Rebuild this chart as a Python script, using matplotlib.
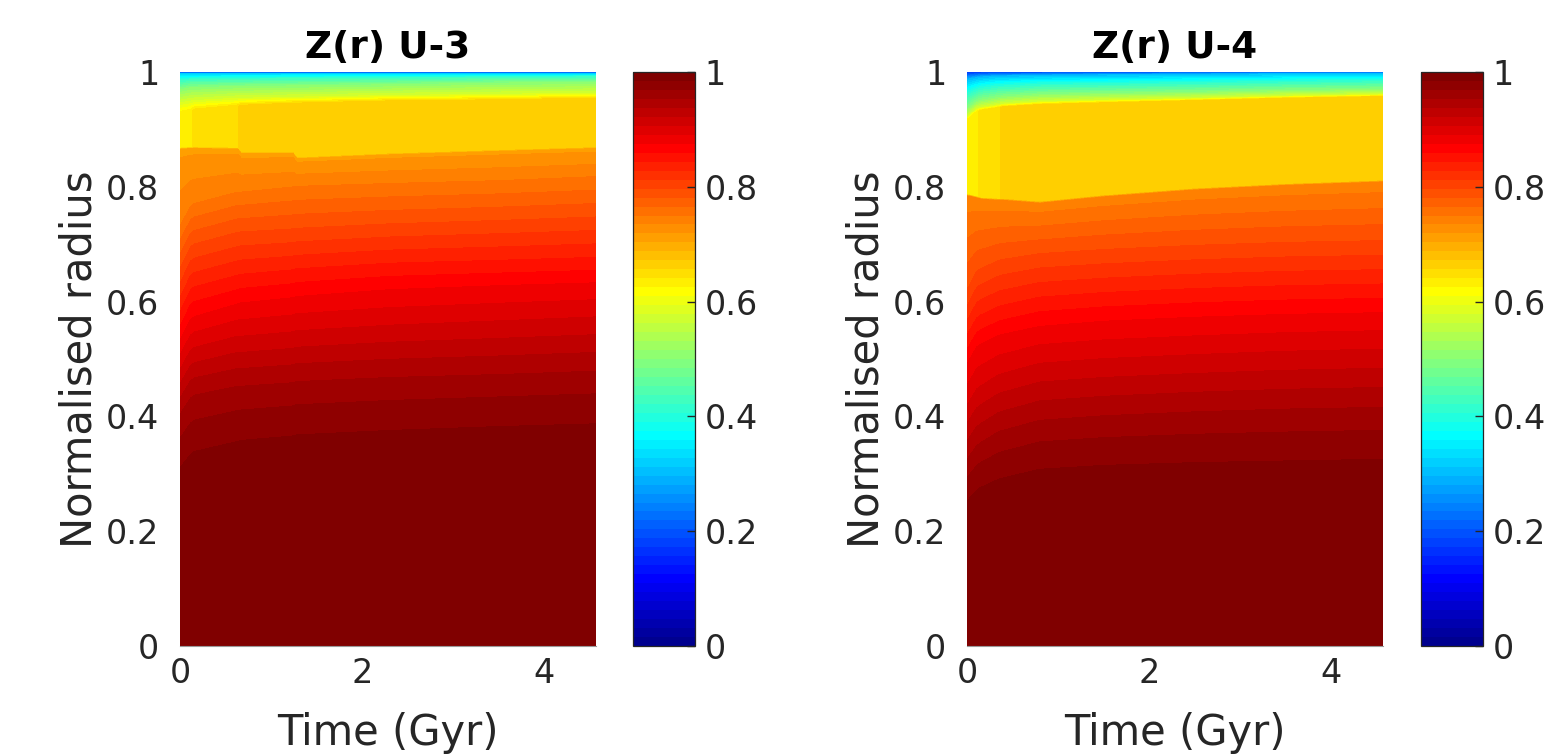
import numpy as np
import matplotlib
matplotlib.use("Agg")
import matplotlib.pyplot as plt
from matplotlib.colors import ListedColormap, Normalize
from matplotlib.cm import ScalarMappable

# ---------------------------------------------------------------------------
# Z(r) field, stored as iso-value rows: for every row a Z value and the
# normalised radius at which that value is reached at each time sample.
# ---------------------------------------------------------------------------

# ---- U-3 --------------------------------------------------------------
u3_time = [0.0, 0.12, 0.16, 0.63, 0.67, 1.24, 1.28, 2.3, 3.5, 4.57]
u3_plateau_z = [0.633, 0.633, 0.648, 0.648, 0.664, 0.664, 0.664, 0.664, 0.664, 0.664]
u3_plateau_bottom = [0.867, 0.868, 0.868, 0.867, 0.859, 0.859, 0.850, 0.857, 0.863, 0.868]
u3_plateau_top = [0.928, 0.932, 0.933, 0.940, 0.940, 0.944, 0.944, 0.948, 0.950, 0.953]
u3_below_z = 0.715
u3_inner_z = [0.995, 0.984, 0.95, 0.90, 0.875, 0.85, 0.80, 0.75]
u3_inner_r = [
    [0.0] * 10,
    [0.320, 0.345, 0.350, 0.368, 0.370, 0.378, 0.380, 0.388, 0.395, 0.400],
    [0.410, 0.440, 0.445, 0.460, 0.460, 0.466, 0.468, 0.475, 0.480, 0.486],
    [0.490, 0.525, 0.530, 0.550, 0.550, 0.558, 0.560, 0.570, 0.578, 0.585],
    [0.530, 0.568, 0.573, 0.595, 0.597, 0.606, 0.608, 0.620, 0.627, 0.632],
    [0.570, 0.610, 0.615, 0.635, 0.637, 0.645, 0.647, 0.657, 0.662, 0.667],
    [0.650, 0.690, 0.695, 0.715, 0.716, 0.721, 0.722, 0.730, 0.736, 0.742],
    [0.730, 0.765, 0.770, 0.790, 0.790, 0.799, 0.800, 0.805, 0.810, 0.817],
]
u3_outer_z = [0.58, 0.50, 0.42, 0.32, 0.20]
u3_outer_r = [
    [0.945, 0.948, 0.949, 0.953, 0.953, 0.955, 0.955, 0.958, 0.960, 0.962],
    [0.968, 0.972, 0.972, 0.974, 0.974, 0.975, 0.975, 0.977, 0.980, 0.981],
    [0.984, 0.986, 0.986, 0.987, 0.987, 0.988, 0.988, 0.989, 0.990, 0.991],
    [0.996] * 10,
    [1.0] * 10,
]

# ---- U-4 --------------------------------------------------------------
u4_time = [0.0, 0.11, 0.15, 0.35, 0.39, 0.8, 1.5, 2.5, 3.5, 4.57]
u4_plateau_z = [0.633, 0.633, 0.648, 0.648, 0.664, 0.664, 0.664, 0.664, 0.664, 0.664]
u4_plateau_bottom = [0.786, 0.782, 0.780, 0.778, 0.778, 0.773, 0.784, 0.796, 0.804, 0.810]
u4_plateau_top = [0.915, 0.930, 0.932, 0.937, 0.938, 0.942, 0.945, 0.949, 0.953, 0.956]
u4_below_z = 0.74
u4_inner_z = [0.995, 0.984, 0.95, 0.90, 0.875, 0.85, 0.80]
u4_inner_r = [
    [0.0] * 10,
    [0.260, 0.280, 0.285, 0.300, 0.302, 0.318, 0.325, 0.330, 0.333, 0.336],
    [0.330, 0.355, 0.360, 0.380, 0.382, 0.400, 0.408, 0.415, 0.420, 0.423],
    [0.430, 0.460, 0.465, 0.485, 0.487, 0.505, 0.513, 0.520, 0.526, 0.530],
    [0.490, 0.520, 0.525, 0.540, 0.542, 0.556, 0.565, 0.572, 0.577, 0.580],
    [0.530, 0.560, 0.565, 0.580, 0.582, 0.597, 0.605, 0.612, 0.617, 0.620],
    [0.610, 0.645, 0.650, 0.665, 0.667, 0.678, 0.685, 0.692, 0.697, 0.700],
]
u4_outer_z = [0.58, 0.50, 0.40, 0.30, 0.15]
u4_outer_r = [
    [0.920, 0.935, 0.937, 0.942, 0.943, 0.947, 0.950, 0.953, 0.957, 0.960],
    [0.935, 0.948, 0.950, 0.955, 0.956, 0.960, 0.962, 0.964, 0.967, 0.969],
    [0.963, 0.970, 0.972, 0.976, 0.976, 0.979, 0.980, 0.982, 0.984, 0.986],
    [0.986, 0.989, 0.990, 0.992, 0.992, 0.993, 0.994, 0.995, 0.996, 0.996],
    [1.0] * 10,
]

panel_titles = ["Z(r) U-3", "Z(r) U-4"]
x_ticks = [0, 2, 4]
y_ticks = [0, 0.2, 0.4, 0.6, 0.8, 1]
tick_text = ["0", "0.2", "0.4", "0.6", "0.8", "1"]


def matlab_jet(m=64):
    n = int(np.ceil(m / 4))
    u = np.concatenate([np.arange(1, n + 1) / n, np.ones(n - 1), np.arange(n, 0, -1) / n])
    g = int(np.ceil(n / 2)) - int(m % 4 == 1) + np.arange(1, len(u) + 1)
    r = g + n
    b = g - n
    J = np.zeros((m, 3))
    for chan, idx in ((0, r), (1, g), (2, b)):
        ok = (idx >= 1) & (idx <= m)
        J[idx[ok] - 1, chan] = u[ok]
    return J


def build_field(time, inner_z, inner_r, below_z, p_bot, p_top, p_z, outer_z, outer_r):
    t = np.asarray(time, float)
    nt = len(t)
    rows_r, rows_z = [], []
    for z, rr in zip(inner_z, inner_r):
        rows_r.append(np.asarray(rr, float))
        rows_z.append(np.full(nt, z))
    pb = np.asarray(p_bot, float)
    rows_r.append(pb - 0.003)
    rows_z.append(np.full(nt, below_z))
    rows_r.append(pb)
    rows_z.append(np.asarray(p_z, float))
    rows_r.append(np.asarray(p_top, float))
    rows_z.append(np.asarray(p_z, float))
    for z, rr in zip(outer_z, outer_r):
        rows_r.append(np.asarray(rr, float))
        rows_z.append(np.full(nt, z))
    R = np.vstack(rows_r)
    Z = np.vstack(rows_z)
    T = np.tile(t, (R.shape[0], 1))
    return T, R, Z


fields = [
    build_field(u3_time, u3_inner_z, u3_inner_r, u3_below_z, u3_plateau_bottom,
                u3_plateau_top, u3_plateau_z, u3_outer_z, u3_outer_r),
    build_field(u4_time, u4_inner_z, u4_inner_r, u4_below_z, u4_plateau_bottom,
                u4_plateau_top, u4_plateau_z, u4_outer_z, u4_outer_r),
]

cmap = ListedColormap(matlab_jet(64))
levels = np.linspace(0, 1, 65)

W, H = 1562, 755
fig = plt.figure(figsize=(W / 100, H / 100), dpi=100)
text_col = "#262626"
fs_tick = 24
fs_label = 30
fs_title = 27

ax_x = [180, 967]
cb_x = [633, 1421]
ax_w = 416
cb_w = 62
y0, y1 = 646, 72

for k in range(2):
    T, R, Z = fields[k]
    ax = fig.add_axes([ax_x[k] / W, (H - y0) / H, ax_w / W, (y0 - y1) / H])
    cs = ax.contourf(T, R, Z, levels=levels, cmap=cmap, norm=Normalize(0, 1))
    cs.set_edgecolor("face")
    cs.set_linewidth(0.6)
    ax.set_xlim(0, 4.57)
    ax.set_ylim(0, 1)
    ax.set_xticks(x_ticks)
    ax.set_xticklabels([str(v) for v in x_ticks])
    ax.set_yticks(y_ticks)
    ax.set_yticklabels(tick_text)
    ax.tick_params(length=0, labelsize=fs_tick, labelcolor=text_col)
    ax.tick_params(axis="y", pad=15)
    ax.tick_params(axis="x", pad=8)
    for s in ("top", "right", "left"):
        ax.spines[s].set_visible(False)
    ax.spines["bottom"].set_color("#9a9a9a")
    ax.spines["bottom"].set_linewidth(0.8)
    ax.set_xlabel("Time (Gyr)", fontsize=fs_label, color=text_col, labelpad=16)
    ax.set_ylabel("Normalised radius", fontsize=fs_label, color=text_col, labelpad=4)
    ax.set_title(panel_titles[k], fontsize=fs_title, fontweight="bold", color="black", pad=10)

    cax = fig.add_axes([cb_x[k] / W, (H - y0) / H, cb_w / W, (y0 - y1) / H])
    sm = ScalarMappable(norm=Normalize(0, 1), cmap=cmap)
    cb = fig.colorbar(sm, cax=cax)
    cb.set_ticks(y_ticks, labels=tick_text)
    cb.ax.tick_params(direction="in", length=6, width=1, color="#262626",
                      labelsize=fs_tick, labelcolor=text_col, pad=7)
    cb.outline.set_edgecolor("#262626")
    cb.outline.set_linewidth(0.9)

fig.savefig("out.png", dpi=100)
